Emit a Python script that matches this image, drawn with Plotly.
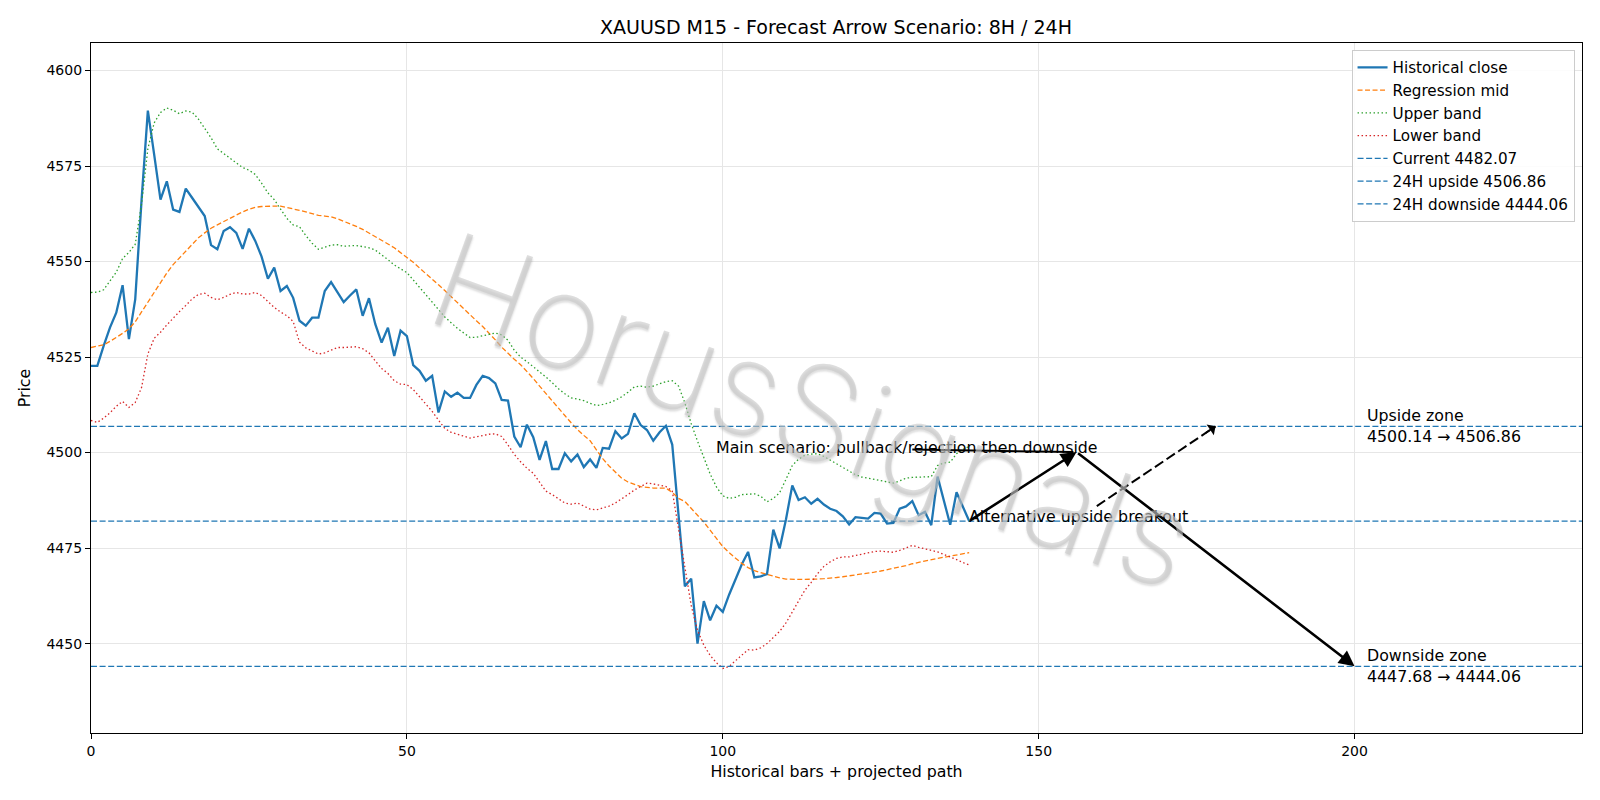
import plotly.graph_objects as go

# ---------------- data ----------------
close = [4522.7, 4522.7, 4527.9, 4532.7, 4536.6, 4543.8, 4529.7, 4540.1, 4566.0, 4589.5,
         4578.0, 4566.2, 4571.0, 4563.6, 4563.0, 4569.1, 4566.7, 4564.2, 4561.9, 4554.3,
         4553.2, 4558.0, 4559.0, 4557.5, 4553.3, 4558.6, 4555.4, 4551.3, 4545.5, 4548.4,
         4542.3, 4543.6, 4540.5, 4534.5, 4533.2, 4535.3, 4535.3, 4542.3, 4544.6, 4542.0,
         4539.4, 4541.1, 4542.7, 4535.8, 4540.4, 4533.6, 4528.8, 4532.7, 4525.3, 4531.9,
         4530.5, 4522.9, 4521.4, 4518.8, 4520.1, 4510.5, 4516.0, 4514.6, 4515.7, 4514.3,
         4514.3, 4517.7, 4520.1, 4519.5, 4518.1, 4513.8, 4513.6, 4504.2, 4501.4, 4507.3,
         4504.0, 4498.1, 4503.0, 4495.7, 4495.7, 4499.8, 4497.7, 4499.5, 4496.2, 4498.2,
         4496.0, 4501.2, 4501.0, 4505.6, 4503.7, 4504.9, 4510.3, 4507.2, 4505.9, 4503.1,
         4505.3, 4507.0, 4502.1, 4483.6, 4465.0, 4467.0, 4450.0, 4461.1, 4456.1, 4459.9,
         4458.3, 4462.8, 4466.8, 4470.7, 4474.0, 4467.3, 4467.6, 4468.2, 4479.8, 4474.9,
         4482.5, 4491.4, 4487.6, 4488.3, 4486.6, 4487.9, 4486.4, 4485.3, 4484.7, 4483.3,
         4481.2, 4483.1, 4482.9, 4482.7, 4484.2, 4484.0, 4481.4, 4481.6, 4485.3, 4485.9,
         4487.3, 4483.6, 4484.5, 4481.0, 4493.7, 4487.5, 4481.1, 4489.6, 4485.8, 4482.07]

reg_mid = [4527.5, 4527.8, 4528.2, 4529.1, 4530.1, 4531.2, 4532.4, 4534.2, 4536.8, 4539.4,
           4542.1, 4544.7, 4547.0, 4549.2, 4551.0, 4552.8, 4554.5, 4556.2, 4557.5, 4558.7,
           4559.6, 4560.5, 4561.4, 4562.2, 4563.0, 4563.7, 4564.2, 4564.4, 4564.5, 4564.5,
           4564.5, 4564.2, 4563.9, 4563.4, 4563.0, 4562.5, 4562.1, 4561.9, 4561.7, 4561.2,
           4560.6, 4559.9, 4559.2, 4558.4, 4557.5, 4556.6, 4555.6, 4554.6, 4553.6, 4552.4,
           4551.2, 4549.8, 4548.3, 4546.9, 4545.4, 4543.9, 4542.4, 4540.8, 4539.2, 4537.5,
           4536.0, 4534.5, 4533.0, 4531.3, 4529.5, 4527.6, 4525.9, 4524.4, 4523.0, 4521.3,
           4519.4, 4517.4, 4515.4, 4513.5, 4511.6, 4509.7, 4507.8, 4506.0, 4504.5, 4503.1,
           4500.7, 4498.4, 4496.5, 4494.8, 4493.3, 4492.3, 4491.6, 4491.1, 4490.9, 4490.7,
           4490.7, 4490.7, 4489.6, 4488.0, 4487.2, 4485.5, 4483.6, 4481.8, 4479.7, 4477.5,
           4475.4, 4473.8, 4472.3, 4471.0, 4469.9, 4469.1, 4468.6, 4468.1, 4467.6, 4467.2,
           4466.9, 4466.8, 4466.8, 4466.8, 4466.8, 4466.9, 4467.0, 4467.1, 4467.3, 4467.5,
           4467.7, 4468.0, 4468.3, 4468.5, 4468.7, 4469.0, 4469.3, 4469.6, 4470.0, 4470.4,
           4470.9, 4471.3, 4471.7, 4472.0, 4472.3, 4472.6, 4472.9, 4473.2, 4473.5, 4473.8]

upper_band = [4541.9, 4542.0, 4542.6, 4544.9, 4547.2, 4550.8, 4552.4, 4554.5, 4565.0, 4579.5,
              4586.3, 4589.0, 4590.2, 4589.6, 4588.7, 4589.4, 4589.1, 4587.3, 4585.0, 4582.4,
              4579.5, 4578.3, 4577.1, 4576.0, 4574.6, 4573.9, 4572.8, 4570.5, 4568.0, 4566.2,
              4563.6, 4561.3, 4559.6, 4559.1, 4556.8, 4554.8, 4553.2, 4553.8, 4554.3, 4554.4,
              4554.0, 4554.1, 4554.2, 4553.9, 4553.6, 4553.0, 4551.8, 4550.5, 4549.1, 4548.0,
              4547.1, 4545.2, 4543.2, 4541.4, 4539.5, 4537.4, 4535.5, 4534.0, 4532.5, 4531.3,
              4530.1, 4530.2, 4530.5, 4531.0, 4531.3, 4530.8, 4529.4, 4526.8, 4525.0, 4523.8,
              4522.5, 4521.3, 4519.8, 4518.3, 4516.7, 4515.4, 4514.3, 4514.0, 4513.6, 4512.9,
              4512.3, 4512.6, 4513.0, 4513.7, 4514.6, 4515.8, 4517.2, 4517.4, 4517.1, 4517.4,
              4518.0, 4518.6, 4518.8, 4517.4, 4513.0, 4507.6, 4503.0, 4498.5, 4494.4, 4491.0,
              4488.7, 4488.0, 4488.3, 4489.0, 4489.1, 4489.2, 4488.6, 4487.1, 4488.0, 4489.5,
              4493.0, 4496.6, 4498.3, 4499.3, 4499.6, 4499.7, 4499.0, 4498.0, 4497.0, 4496.0,
              4495.0, 4494.2, 4493.6, 4493.3, 4493.0, 4492.7, 4492.4, 4492.0, 4492.6, 4493.3,
              4493.5, 4493.6, 4493.6, 4493.7, 4496.6, 4497.3, 4497.5, 4499.7, 4500.8, 4501.6]

lower_band = [4508.4, 4507.9, 4509.0, 4510.4, 4512.1, 4513.4, 4511.8, 4513.1, 4517.0, 4525.8,
              4529.9, 4531.5, 4533.4, 4535.2, 4536.9, 4538.5, 4540.2, 4541.4, 4541.7, 4540.6,
              4540.0, 4540.6, 4541.4, 4541.9, 4541.5, 4541.5, 4541.9, 4541.1, 4539.5, 4538.0,
              4536.8, 4535.8, 4534.3, 4528.9, 4527.4, 4526.5, 4525.8, 4526.1, 4526.9, 4527.5,
              4527.5, 4527.6, 4527.7, 4527.2, 4526.1, 4524.0, 4522.0, 4520.7, 4518.8, 4517.9,
              4517.8, 4516.5, 4514.6, 4512.7, 4510.8, 4508.5, 4506.3, 4505.3, 4504.9, 4504.3,
              4503.8, 4504.2, 4504.5, 4504.8, 4504.9, 4504.2, 4502.0, 4499.5, 4497.6, 4495.9,
              4494.6, 4492.2, 4489.9, 4489.0, 4487.8, 4486.8, 4486.5, 4486.8, 4486.0, 4485.2,
              4485.0, 4485.4, 4486.0, 4486.8, 4487.8, 4489.0, 4490.2, 4491.2, 4492.0, 4491.8,
              4491.4, 4491.1, 4490.0, 4480.0, 4469.3, 4460.0, 4453.5, 4449.6, 4446.9, 4445.0,
              4443.5, 4444.0, 4445.5, 4447.0, 4448.4, 4448.3, 4448.9, 4450.0, 4451.5, 4453.2,
              4455.4, 4458.2, 4461.2, 4464.0, 4466.0, 4468.3, 4470.2, 4471.4, 4472.3, 4472.7,
              4472.7, 4473.0, 4473.4, 4473.8, 4474.1, 4474.2, 4474.1, 4473.9, 4474.4, 4475.1,
              4475.7, 4475.2, 4474.7, 4474.4, 4474.0, 4473.4, 4472.8, 4472.0, 4471.2, 4470.6]

bars = list(range(len(close)))

current = 4482.07
up_24h = 4506.86
down_24h = 4444.06
pullback = 4500.14
down_zone_start = 4447.68

# scenario path (bar index, price)
main_x = [139, 156, 200]
main_y = [current, pullback, down_24h]
alt_x = [159.2, 178]
alt_y = [4486.0, up_24h]
label_main_x = 99
label_alt_x = 139
zone_label_x = 202

x_range = [0, 236]
y_range = [4426.6, 4607.2]
x_ticks = [0, 50, 100, 150, 200]
y_ticks = [4450, 4475, 4500, 4525, 4550, 4575, 4600]

title = "XAUUSD M15 - Forecast Arrow Scenario: 8H / 24H"

# ---------------- figure ----------------
FONT = "DejaVu Sans, Verdana, sans-serif"
BLUE = "#1f77b4"
ORANGE = "#ff7f0e"
GREEN = "#2ca02c"
RED = "#d62728"
TXT = 15.8

fig = go.Figure()
fig.add_trace(go.Scatter(x=bars, y=close, mode="lines", name="Historical close",
                         line=dict(color=BLUE, width=2.3)))
fig.add_trace(go.Scatter(x=bars, y=reg_mid, mode="lines", name="Regression mid",
                         line=dict(color=ORANGE, width=1.3, dash="5px,2.5px")))
fig.add_trace(go.Scatter(x=bars, y=upper_band, mode="lines", name="Upper band",
                         line=dict(color=GREEN, width=1.3, dash="1.5px,2.5px")))
fig.add_trace(go.Scatter(x=bars, y=lower_band, mode="lines", name="Lower band",
                         line=dict(color=RED, width=1.3, dash="1.5px,2.5px")))
for lvl, nm in [(current, f"Current {current:.2f}"),
                (up_24h, f"24H upside {up_24h:.2f}"),
                (down_24h, f"24H downside {down_24h:.2f}")]:
    fig.add_trace(go.Scatter(x=x_range, y=[lvl, lvl], mode="lines", name=nm,
                             line=dict(color=BLUE, width=1.3, dash="6px,2.6px")))

# connector from main scenario label to pullback point
fig.add_trace(go.Scatter(x=[130, main_x[1] - 0.5], y=[pullback + 0.65, pullback], mode="lines",
                         showlegend=False, hoverinfo="skip",
                         line=dict(color="black", width=2)))
# dashed alternative path
fig.add_trace(go.Scatter(x=alt_x, y=alt_y, mode="lines", showlegend=False, hoverinfo="skip",
                         line=dict(color="black", width=2, dash="10px,4px")))

ann = []
# solid scenario arrows
for i in range(len(main_x) - 1):
    ann.append(dict(x=main_x[i + 1], y=main_y[i + 1], ax=main_x[i], ay=main_y[i],
                    xref="x", yref="y", axref="x", ayref="y", text="", showarrow=True,
                    arrowhead=2, arrowsize=1.2, arrowwidth=2.6, arrowcolor="black",
                    standoff=0, startstandoff=0))
# dashed arrow head
dx = alt_x[1] - alt_x[0]
dy = alt_y[1] - alt_y[0]
ann.append(dict(x=alt_x[1], y=alt_y[1], ax=alt_x[1] - 0.1 * dx, ay=alt_y[1] - 0.1 * dy,
                xref="x", yref="y", axref="x", ayref="y", text="", showarrow=True,
                arrowhead=1, arrowsize=1.2, arrowwidth=1.8, arrowcolor="black", standoff=0))

tf = dict(family=FONT, size=TXT, color="black")
ann.append(dict(x=label_main_x, y=pullback, xref="x", yref="y", xanchor="left", yanchor="middle",
                yshift=5, xshift=-2, text="Main scenario: pullback/rejection then downside",
                showarrow=False, font=tf))
ann.append(dict(x=label_alt_x, y=current, xref="x", yref="y", xanchor="left", yanchor="middle",
                yshift=5, xshift=-2, text="Alternative upside breakout", showarrow=False, font=tf))
ann.append(dict(x=zone_label_x, y=up_24h, xref="x", yref="y", xanchor="left", yanchor="middle",
                align="left", xshift=-2, text=f"Upside zone<br>{pullback:.2f} → {up_24h:.2f}",
                showarrow=False, font=tf))
ann.append(dict(x=zone_label_x, y=down_24h, xref="x", yref="y", xanchor="left", yanchor="middle",
                align="left", xshift=-2,
                text=f"Downside zone<br>{down_zone_start:.2f} → {down_24h:.2f}",
                showarrow=False, font=tf))
# watermark
ann.append(dict(x=0.484, y=0.468, xref="paper", yref="paper", xanchor="center", yanchor="middle",
                text="HorusSignals", showarrow=False, textangle=20,
                font=dict(family="Inter, DejaVu Sans", size=132, weight=200,
                          color="rgba(200,200,200,0.6)",
                          shadow="1px 2px 2px rgba(80,80,80,0.3)")))

axis_common = dict(showline=True, linecolor="black", linewidth=1.2, mirror=True,
                   ticks="outside", ticklen=5, tickwidth=1, tickcolor="black",
                   showgrid=True, gridcolor="#e6e6e6", gridwidth=1, zeroline=False,
                   tickfont=dict(family=FONT, size=14, color="black"))

fig.update_layout(
    width=1600, height=800,
    paper_bgcolor="white", plot_bgcolor="white",
    margin=dict(l=91, r=18, t=43, b=67, autoexpand=False),
    font=dict(family=FONT, size=TXT, color="black"),
    title=dict(text=title, x=0.5225, xanchor="center", y=1 - 27.5 / 800, yanchor="middle",
               font=dict(family=FONT, size=19, color="black")),
    xaxis=dict(range=x_range, tickvals=x_ticks, ticktext=[str(t) for t in x_ticks],
               title=dict(text="Historical bars + projected path", standoff=8,
                          font=dict(family=FONT, size=TXT)), **axis_common),
    yaxis=dict(range=y_range, tickvals=y_ticks, ticktext=[str(t) for t in y_ticks],
               title=dict(text="Price", standoff=11, font=dict(family=FONT, size=TXT)),
               **axis_common),
    legend=dict(x=0.995, xanchor="right", y=0.99, yanchor="top",
                bgcolor="rgba(255,255,255,0.85)", bordercolor="#cccccc", borderwidth=1,
                font=dict(family=FONT, size=15.2, color="black")),
    annotations=ann,
    showlegend=True,
)

fig.write_html("out.html")
